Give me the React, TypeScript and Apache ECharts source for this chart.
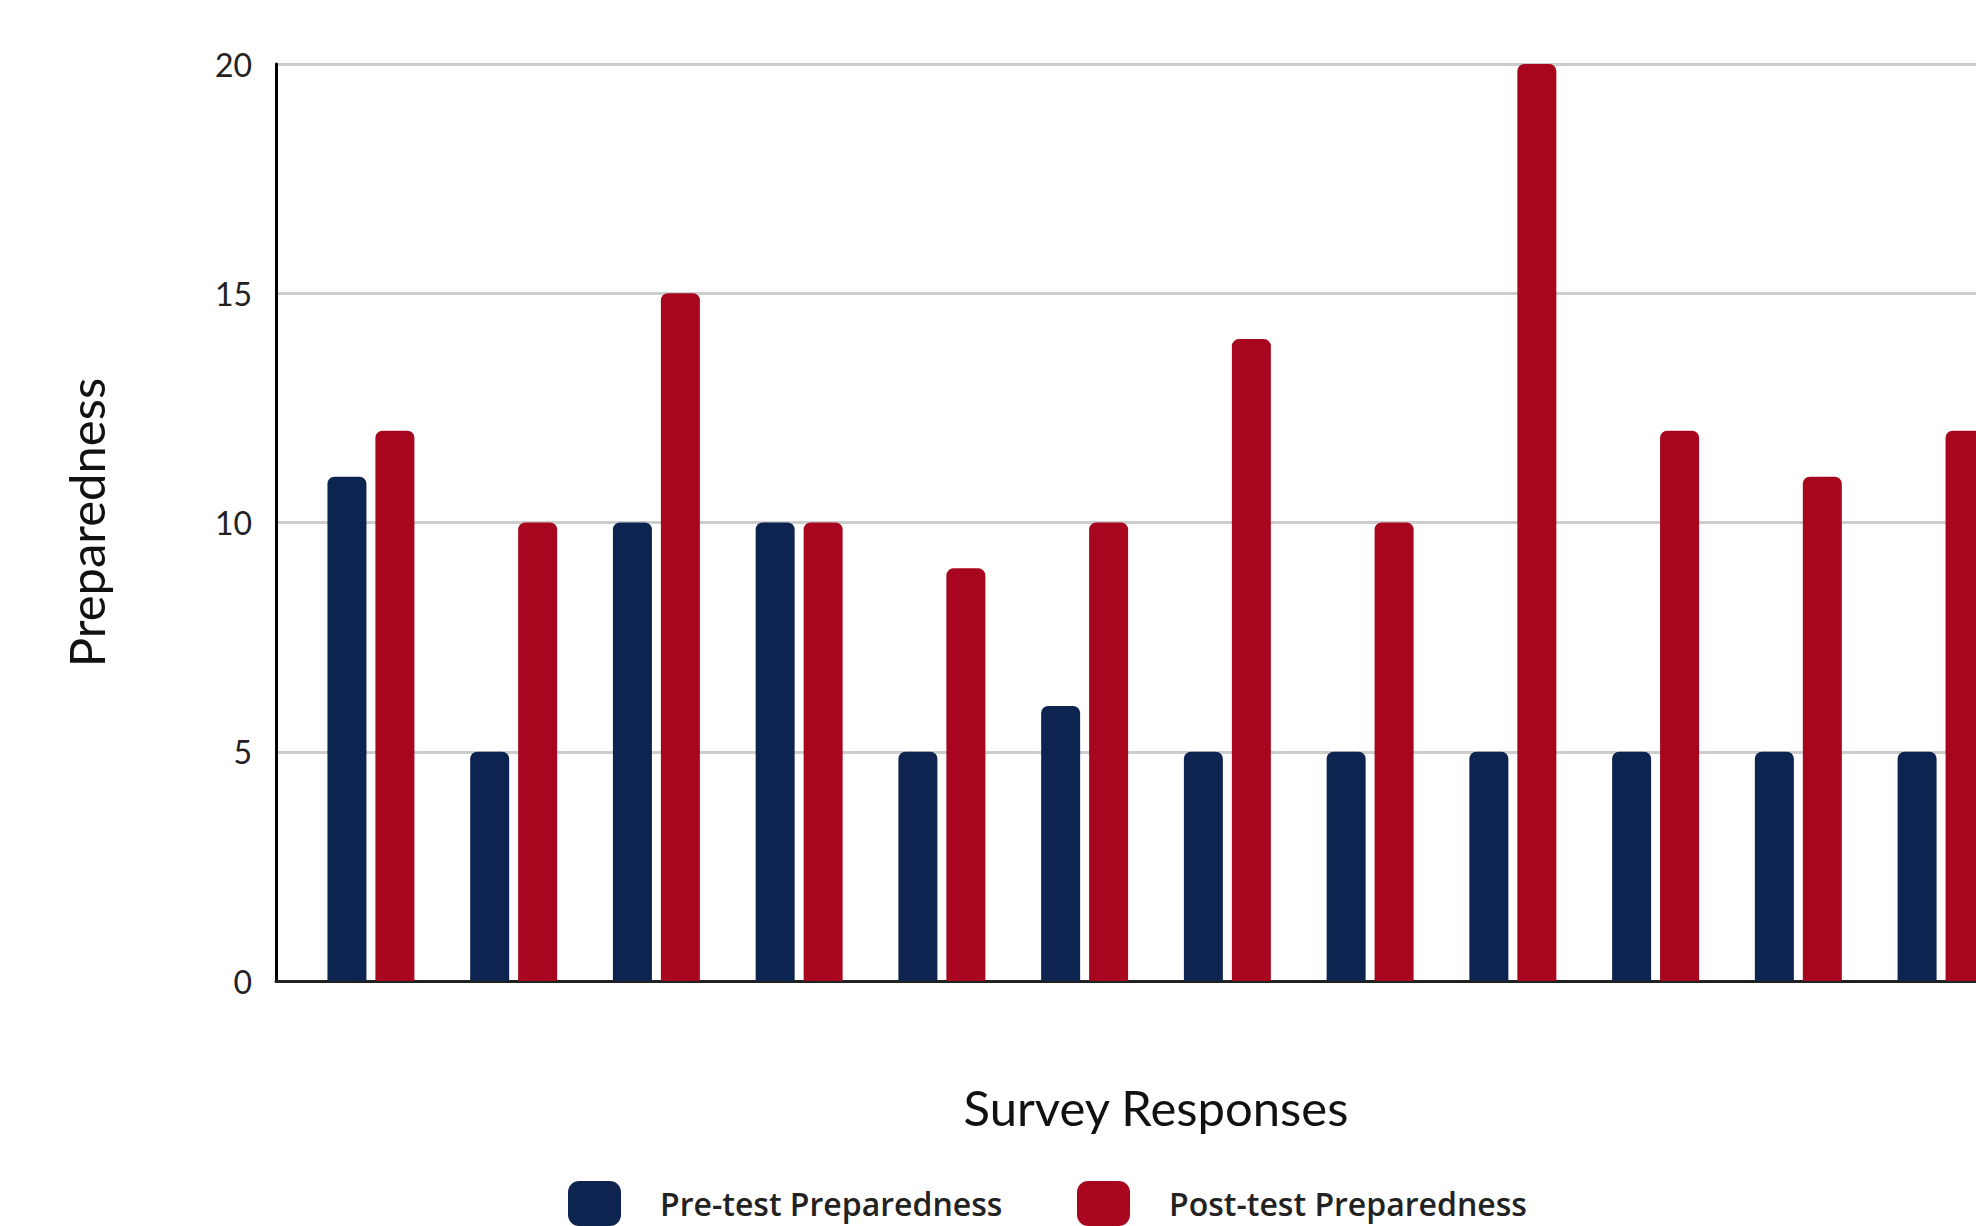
import React, { useEffect, useRef } from "react";
import * as echarts from "echarts";

// Twelve survey responses, scored before and after the session
const responses = ["1", "2", "3", "4", "5", "6", "7", "8", "9", "10", "11", "12"];
const preTest = [11, 5, 10, 10, 5, 6, 5, 5, 5, 5, 5, 5];
const postTest = [12, 10, 15, 10, 9, 10, 14, 10, 20, 12, 11, 12];
const yTicks = { min: 0, max: 20, interval: 5 };

const NAVY = "#0d2350";
const RED = "#a8061f";
const FONT = "Lato, 'Open Sans', sans-serif";
const LEGEND_FONT = "'Open Sans', Lato, sans-serif";

// The plot runs a little past the right edge of the visible frame
const VIEW_W = 1976;
const VIEW_H = 1226;
const CHART_W = 2036;

export default function App() {
  const ref = useRef<HTMLDivElement>(null);

  useEffect(() => {
    if (!ref.current) return;
    const chart = echarts.init(ref.current, null, { renderer: "svg" });

    const toPoints = (values: number[]) => responses.map((_, i) => [i, values[i]]);

    const legendText = {
      fontFamily: LEGEND_FONT,
      fontSize: 32,
      fontWeight: 600,
      color: "#222",
      padding: [0, 0, 0, 34],
    };
    const legendBase = {
      top: 1181,
      padding: 0,
      itemWidth: 53,
      itemHeight: 45,
      icon: "roundRect",
      textStyle: legendText,
    };

    chart.setOption({
      animation: false,
      backgroundColor: "#ffffff",
      grid: { left: 276, top: 64, bottom: 245, right: 0, containLabel: false },
      legend: [
        { ...legendBase, data: ["Pre-test Preparedness"], left: 568 },
        { ...legendBase, data: ["Post-test Preparedness"], left: 1077 },
      ],
      xAxis: {
        type: "value",
        min: -0.665,
        max: responses.length - 1 + 0.665,
        name: "Survey Responses",
        nameLocation: "middle",
        nameGap: 101,
        nameTextStyle: { fontFamily: FONT, fontSize: 49, color: "#111" },
        axisLine: { show: true, onZero: false, lineStyle: { color: "#222", width: 3 } },
        axisTick: { show: false },
        axisLabel: { show: false },
        splitLine: { show: false },
      },
      yAxis: {
        type: "value",
        min: yTicks.min,
        max: yTicks.max,
        interval: yTicks.interval,
        name: "Preparedness",
        nameLocation: "middle",
        nameGap: 166,
        nameTextStyle: { fontFamily: FONT, fontSize: 49, color: "#111" },
        axisLine: { show: true, onZero: false, lineStyle: { color: "#000", width: 3 } },
        axisTick: { show: false },
        axisLabel: { fontFamily: FONT, fontSize: 32, color: "#222", margin: 24 },
        splitLine: { show: true, lineStyle: { color: "#cdcdcd", width: 3 } },
      },
      series: [
        {
          name: "Pre-test Preparedness",
          type: "bar",
          data: toPoints(preTest),
          barWidth: 39,
          barGap: "23%",
          itemStyle: { color: NAVY, borderRadius: [7, 7, 0, 0] },
        },
        {
          name: "Post-test Preparedness",
          type: "bar",
          data: toPoints(postTest),
          barWidth: 39,
          barGap: "23%",
          itemStyle: { color: RED, borderRadius: [7, 7, 0, 0] },
        },
      ],
    });

    return () => chart.dispose();
  }, []);

  return (
    <div
      style={{
        position: "absolute",
        left: 0,
        top: 0,
        width: VIEW_W,
        height: VIEW_H,
        overflow: "hidden",
        background: "#fff",
      }}
    >
      <div ref={ref} style={{ width: CHART_W, height: VIEW_H }} />
    </div>
  );
}
